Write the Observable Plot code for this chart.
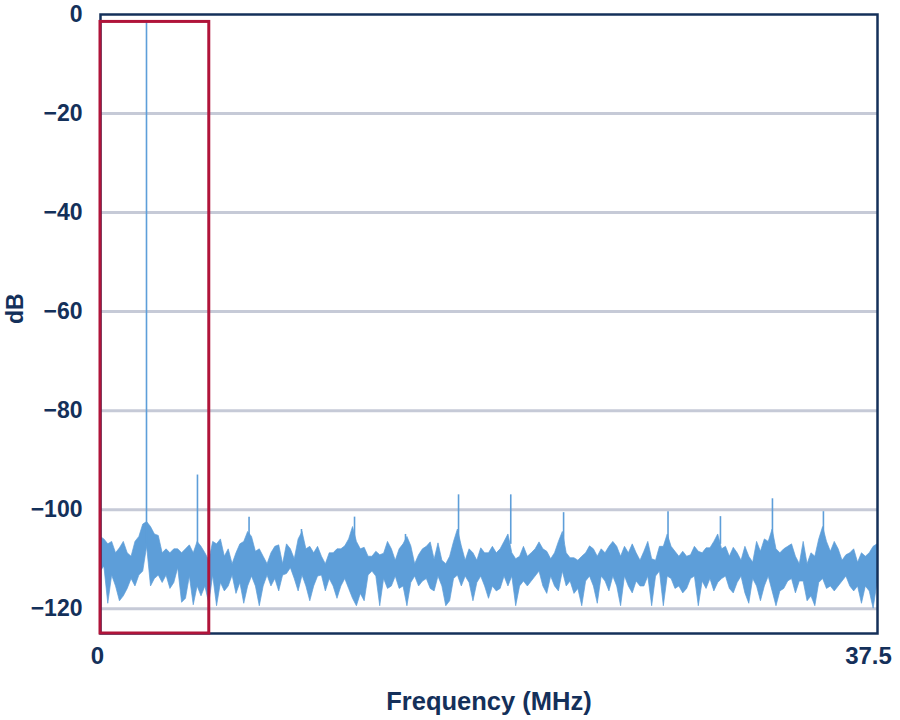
<!DOCTYPE html>
<html>
<head>
<meta charset="utf-8">
<script src="https://cdn.jsdelivr.net/npm/d3@7"></script>
<script src="https://cdn.jsdelivr.net/npm/@observablehq/plot@0.6"></script>
<style>
  html, body { margin: 0; padding: 0; background: #ffffff; }
  #chart { width: 900px; height: 720px; }
</style>
</head>
<body>
<div id="chart"></div>
<script>
// FFT bin width (MHz) of the noise-floor envelope arrays below
const binWidth = 0.1875;

// Upper envelope of the noise floor (dB), one value per bin, 0 → 37.5 MHz
const noiseHigh = [
  -105.5, -106.0, -107.0, -106.5, -108.8, -107.8, -106.5, -108.8, -109.5, -106.5,
  -105.5, -103.0, -102.5, -103.5, -105.0, -105.3, -108.8, -108.0, -108.8, -108.0,
  -108.0, -108.8, -108.0, -107.2, -108.8, -106.5, -107.5, -108.8, -110.3, -106.5,
  -107.0, -106.0, -109.5, -108.0, -111.0, -108.8, -107.0, -106.5, -104.5, -105.5,
  -108.5, -108.0, -109.5, -111.0, -108.8, -107.5, -107.2, -111.0, -107.0, -108.0,
  -110.0, -106.0, -104.5, -108.0, -107.5, -108.8, -107.5, -109.5, -111.0, -108.8,
  -108.8, -108.0, -108.0, -107.4, -106.0, -103.5, -106.5, -108.0, -107.7, -109.5,
  -109.5, -108.5, -109.2, -108.9, -106.5, -108.0, -110.3, -108.0, -107.0, -105.5,
  -107.4, -111.0, -109.2, -108.0, -107.5, -106.6, -110.1, -106.8, -110.3, -111.0,
  -109.5, -106.5, -104.0, -107.4, -110.3, -108.0, -108.8, -110.3, -107.8, -108.8,
  -108.8, -107.5, -108.8, -108.0, -106.5, -105.0, -108.8, -110.0, -109.5, -107.5,
  -109.5, -108.8, -108.0, -106.6, -108.0, -108.5, -110.0, -108.8, -106.5, -104.5,
  -108.8, -109.8, -109.8, -110.3, -109.5, -108.8, -107.4, -108.0, -109.5, -108.0,
  -108.8, -107.5, -106.5, -107.5, -109.5, -107.5, -108.8, -107.0, -108.8, -110.3,
  -108.5, -106.5, -110.0, -110.3, -107.5, -107.5, -105.0, -107.5, -108.5, -109.5,
  -108.5, -109.5, -109.2, -107.5, -108.5, -108.8, -107.8, -107.8, -106.5, -105.0,
  -108.0, -107.5, -109.5, -107.7, -108.8, -110.3, -107.5, -109.5, -110.7, -106.5,
  -108.5, -106.0, -106.5, -104.0, -108.0, -108.8, -108.0, -107.5, -107.0, -109.5,
  -111.0, -106.5, -111.0, -108.8, -109.5, -106.0, -103.5, -106.5, -108.5, -106.5,
  -108.0, -110.3, -109.2, -108.8, -108.0, -110.7, -108.8, -109.5, -108.8, -107.5,
  -107.0
];

// Lower envelope of the noise floor (dB), same bins
const noiseLow = [
  -112.5, -111.5, -119.0, -113.3, -115.5, -118.5, -117.5, -116.0, -114.0, -115.5,
  -113.3, -112.5, -107.5, -115.5, -114.0, -113.3, -114.8, -113.3, -116.0, -114.8,
  -111.8, -118.8, -118.0, -113.5, -119.3, -115.5, -117.5, -115.5, -119.0, -113.3,
  -119.5, -114.8, -116.5, -115.5, -113.3, -117.0, -114.8, -119.0, -115.5, -113.5,
  -115.5, -119.5, -115.5, -113.3, -115.5, -114.0, -116.5, -113.3, -113.0, -111.8,
  -114.0, -116.5, -113.3, -115.5, -118.5, -115.5, -113.5, -113.3, -116.5, -114.0,
  -115.5, -118.0, -115.5, -114.0, -116.0, -118.0, -119.5, -117.0, -118.5, -113.3,
  -112.5, -113.5, -119.5, -114.0, -116.0, -115.5, -113.5, -116.0, -115.5, -119.5,
  -114.8, -113.5, -115.5, -114.5, -114.0, -116.0, -116.5, -113.5, -115.5, -119.5,
  -118.5, -114.0, -113.3, -115.5, -113.5, -114.8, -118.5, -114.8, -113.5, -115.5,
  -118.0, -115.5, -116.5, -116.0, -113.5, -115.5, -113.5, -119.5, -115.5, -114.5,
  -115.5, -114.5, -113.5, -112.5, -115.5, -117.0, -113.5, -115.5, -116.5, -112.5,
  -115.5, -114.5, -117.0, -116.0, -119.5, -114.5, -113.5, -115.5, -119.0, -113.5,
  -114.5, -116.5, -113.5, -115.5, -119.5, -113.5, -115.5, -116.9, -114.5, -115.5,
  -115.5, -113.5, -119.5, -113.5, -112.5, -119.5, -113.5, -114.0, -116.0, -115.5,
  -116.9, -116.0, -114.0, -113.5, -119.5, -114.5, -116.0, -114.0, -116.5, -114.8,
  -114.0, -113.5, -116.0, -116.9, -114.8, -113.5, -116.9, -119.0, -114.0, -115.5,
  -118.5, -115.5, -113.5, -116.5, -119.5, -116.5, -116.0, -114.5, -114.0, -116.9,
  -114.5, -114.5, -118.5, -117.5, -119.5, -114.8, -114.0, -116.0, -115.5, -116.5,
  -115.5, -114.5, -113.5, -115.5, -116.5, -115.5, -119.0, -115.5, -116.5, -120.0,
  -114.8
];

// Tone and spurs: frequency (MHz) and peak level (dB)
const spurFreq = [2.22, 4.68, 7.17, 9.70, 12.26, 14.72, 17.28, 19.80, 22.35, 27.39, 29.92, 32.43, 34.89];
const spurPeak = [-1.5, -93, -101.5, -104, -101.5, -105, -97, -97, -100.6, -100.4, -101.4, -97.8, -100.4];
const spurBase = -107;

// Highlight box (MHz, dB)
const boxFreq = [0, 5.25];
const boxLevel = [-1.5, -125];

// Axis ticks and labels
const yTicks = [0, -20, -40, -60, -80, -100, -120];
const xTickStart = [0];
const xTickEnd = [37.5];
const gridLevels = [-20, -40, -60, -80, -100, -120];
const xTitle = "Frequency (MHz)";
const yTitle = "dB";

const noise = noiseHigh.map((h, i) => ({f: i * binWidth, hi: h, lo: noiseLow[i]}));
const spurs = spurFreq.map((f, i) => ({f, peak: spurPeak[i], base: spurBase}));
const box = [{x1: boxFreq[0], x2: boxFreq[1], y1: boxLevel[0], y2: boxLevel[1]}];

const navy = "#14305a";
const blue = "#5d9ed9";
const red = "#b0143a";
const fmt = d => String(d);

const chart = Plot.plot({
  width: 900,
  height: 720,
  marginLeft: 100,
  marginRight: 23,
  marginTop: 14,
  marginBottom: 87,
  style: {
    fontFamily: "'Liberation Sans', Arial, Helvetica, sans-serif",
    fontSize: "24px",
    fontWeight: "bold",
    color: navy,
    background: "#ffffff"
  },
  x: {domain: [0, 37.5]},
  y: {domain: [-125, 0]},
  marks: [
    Plot.ruleY(gridLevels, {stroke: "#c6cad7", strokeWidth: 3}),
    Plot.areaY(noise, {x: "f", y1: "lo", y2: "hi", fill: blue, stroke: blue, strokeWidth: 0.7}),
    Plot.ruleX(spurs, {x: "f", y1: "base", y2: "peak", stroke: blue, strokeWidth: 1.6}),
    Plot.axisY({ticks: yTicks, tickSize: 0, tickPadding: 18, fontSize: 23, label: null}),
    Plot.axisX({ticks: xTickStart, tickSize: 0, tickPadding: 13, dx: -3, fontSize: 24, tickFormat: fmt, label: null}),
    Plot.axisX({ticks: xTickEnd, tickSize: 0, tickPadding: 13, dx: -9, fontSize: 24, tickFormat: fmt, label: null}),
    Plot.text([xTitle], {frameAnchor: "bottom", dy: 76, fontSize: 25.5, fontWeight: "bold", fill: navy}),
    Plot.text([yTitle], {frameAnchor: "left", dx: -85, rotate: -90, fontSize: 23, fontWeight: "bold", fill: navy}),
    Plot.frame({stroke: navy, strokeWidth: 2.5}),
    Plot.rect(box, {x1: "x1", x2: "x2", y1: "y1", y2: "y2", fill: "none", stroke: red, strokeWidth: 3})
  ]
});
document.getElementById("chart").appendChild(chart);
</script>
</body>
</html>
